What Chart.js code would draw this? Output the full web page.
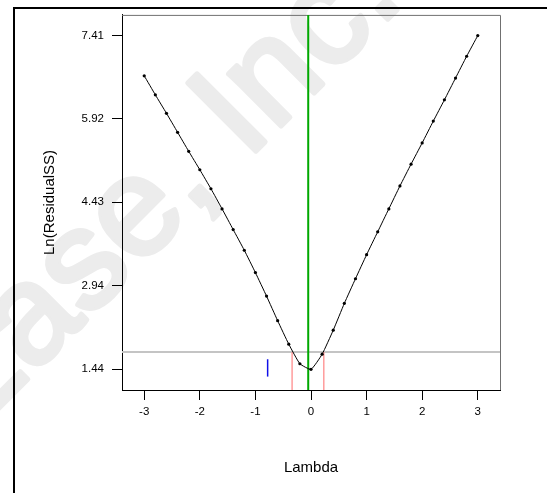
<!DOCTYPE html>
<html>
<head>
<meta charset="utf-8">
<script src="https://cdn.jsdelivr.net/npm/chart.js@4/dist/chart.umd.min.js"></script>
<style>
  html, body { margin: 0; padding: 0; background: #fff; }
</style>
</head>
<body>
<canvas id="boxcox" width="547" height="493"></canvas>
<script>
// Box-Cox plot for power transforms: ln(residual SS) vs lambda
const lambda = [-3.0, -2.8, -2.6, -2.4, -2.2, -2.0, -1.8, -1.6, -1.4, -1.2, -1.0,
                -0.8, -0.6, -0.4, -0.2, 0.0, 0.2, 0.4, 0.6, 0.8, 1.0,
                1.2, 1.4, 1.6, 1.8, 2.0, 2.2, 2.4, 2.6, 2.8, 3.0];
const lnResidualSS = [6.69, 6.35, 6.02, 5.68, 5.34, 5.01, 4.67, 4.31, 3.94, 3.57, 3.17,
                      2.75, 2.31, 1.89, 1.54, 1.44, 1.71, 2.14, 2.62, 3.06, 3.49,
                      3.90, 4.31, 4.72, 5.11, 5.49, 5.88, 6.26, 6.65, 7.04, 7.41];
const xTicks = [-3, -2, -1, 0, 1, 2, 3];
const yTicks = [1.44, 2.94, 4.43, 5.92, 7.41];
const xRange = [-3.4, 3.4];
const yRange = [1.07, 7.78];

const bestLambda = -0.05;        // green
const ciLambda = [-0.34, 0.23];  // red, 95% interval
const ciCutoff = 1.75;           // grey
const currentLambda = -0.78;     // blue
const currentSpan = [1.31, 1.62];

Chart.defaults.font.family = '"Liberation Sans", Arial, sans-serif';
Chart.defaults.color = '#000';

const pts = lambda.map((x, i) => ({ x: x, y: lnResidualSS[i] }));

const vline = (x, y0, y1) => [{ x: x, y: y0 }, { x: x, y: y1 }];

const decor = {
  id: 'decor',
  beforeDraw(chart) {
    const ctx = chart.ctx;
    ctx.save();
    ctx.fillStyle = '#fff';
    ctx.fillRect(0, 0, chart.width, chart.height);
    // faint company watermark
    ctx.translate(-243, 650);
    ctx.rotate(-Math.PI / 4);
    ctx.font = '140px "Liberation Sans", Arial, sans-serif';
    ctx.fillStyle = '#ececec';
    ctx.strokeStyle = '#ececec';
    ctx.lineWidth = 5;
    ctx.lineJoin = 'round';
    ctx.textBaseline = 'alphabetic';
    ctx.strokeText('Stat-Ease, Inc.', 0, 0);
    ctx.fillText('Stat-Ease, Inc.', 0, 0);
    ctx.restore();
  },
  beforeDatasetsDraw(chart) {
    const { ctx, chartArea: a } = chart;
    ctx.save();
    ctx.strokeStyle = '#707070';
    ctx.lineWidth = 1;
    ctx.beginPath();
    ctx.moveTo(a.left, a.top + 0.5);
    ctx.lineTo(a.right + 0.5, a.top + 0.5);
    ctx.lineTo(a.right + 0.5, a.bottom);
    ctx.stroke();
    ctx.restore();
  },
  afterDraw(chart) {
    const ctx = chart.ctx;
    ctx.save();
    ctx.fillStyle = '#000';
    ctx.fillRect(13, 7, chart.width - 13, 2);
    ctx.fillRect(13, 7, 2, chart.height - 7);
    ctx.restore();
  }
};

new Chart(document.getElementById('boxcox'), {
  type: 'line',
  data: {
    datasets: [
      {
        data: pts,
        borderColor: '#000',
        borderWidth: 1,
        pointRadius: 1.6,
        pointBackgroundColor: '#000',
        pointBorderWidth: 0,
        tension: 0.15,
        order: 0
      },
      {
        data: vline(bestLambda, yRange[0], yRange[1]),
        borderColor: '#00a800',
        borderWidth: 2,
        pointRadius: 0,
        order: 1
      },
      {
        data: vline(currentLambda, currentSpan[0], currentSpan[1]),
        borderColor: '#1010e8',
        borderWidth: 1.5,
        pointRadius: 0,
        order: 2
      },
      {
        data: vline(ciLambda[0], yRange[0], ciCutoff),
        borderColor: '#ff9c9c',
        borderWidth: 1.5,
        pointRadius: 0,
        order: 3
      },
      {
        data: vline(ciLambda[1], yRange[0], ciCutoff),
        borderColor: '#ff9c9c',
        borderWidth: 1.5,
        pointRadius: 0,
        order: 3
      },
      {
        data: [{ x: xRange[0], y: ciCutoff }, { x: xRange[1], y: ciCutoff }],
        borderColor: '#c4c4c4',
        borderWidth: 2,
        pointRadius: 0,
        order: 4
      }
    ]
  },
  options: {
    responsive: false,
    animation: false,
    layout: { padding: { left: 15, top: 13, right: 47, bottom: 0 } },
    plugins: { legend: { display: false }, tooltip: { enabled: false } },
    scales: {
      x: {
        type: 'linear',
        min: xRange[0],
        max: xRange[1],
        afterBuildTicks: s => { s.ticks = xTicks.map(v => ({ value: v })); },
        afterFit: s => { s.height = 103; },
        ticks: { font: { size: 11.5 }, padding: 5, maxRotation: 0 },
        grid: { drawOnChartArea: false, tickLength: 10, color: '#000', tickColor: '#000' },
        border: { color: '#000', width: 1 },
        title: { display: true, text: 'Lambda', font: { size: 15 }, padding: { top: 0, bottom: 16 } }
      },
      y: {
        min: yRange[0],
        max: yRange[1],
        afterBuildTicks: s => { s.ticks = yTicks.map(v => ({ value: v })); },
        afterFit: s => { s.width = 107; },
        ticks: { font: { size: 11.5 }, padding: 8, callback: v => v.toFixed(2) },
        grid: { drawOnChartArea: false, tickLength: 10, color: '#000', tickColor: '#000' },
        border: { color: '#000', width: 1 },
        title: { display: true, text: 'Ln(ResidualSS)', font: { size: 15 }, padding: { top: 26, bottom: 0 } }
      }
    }
  },
  plugins: [decor]
});
</script>
</body>
</html>
